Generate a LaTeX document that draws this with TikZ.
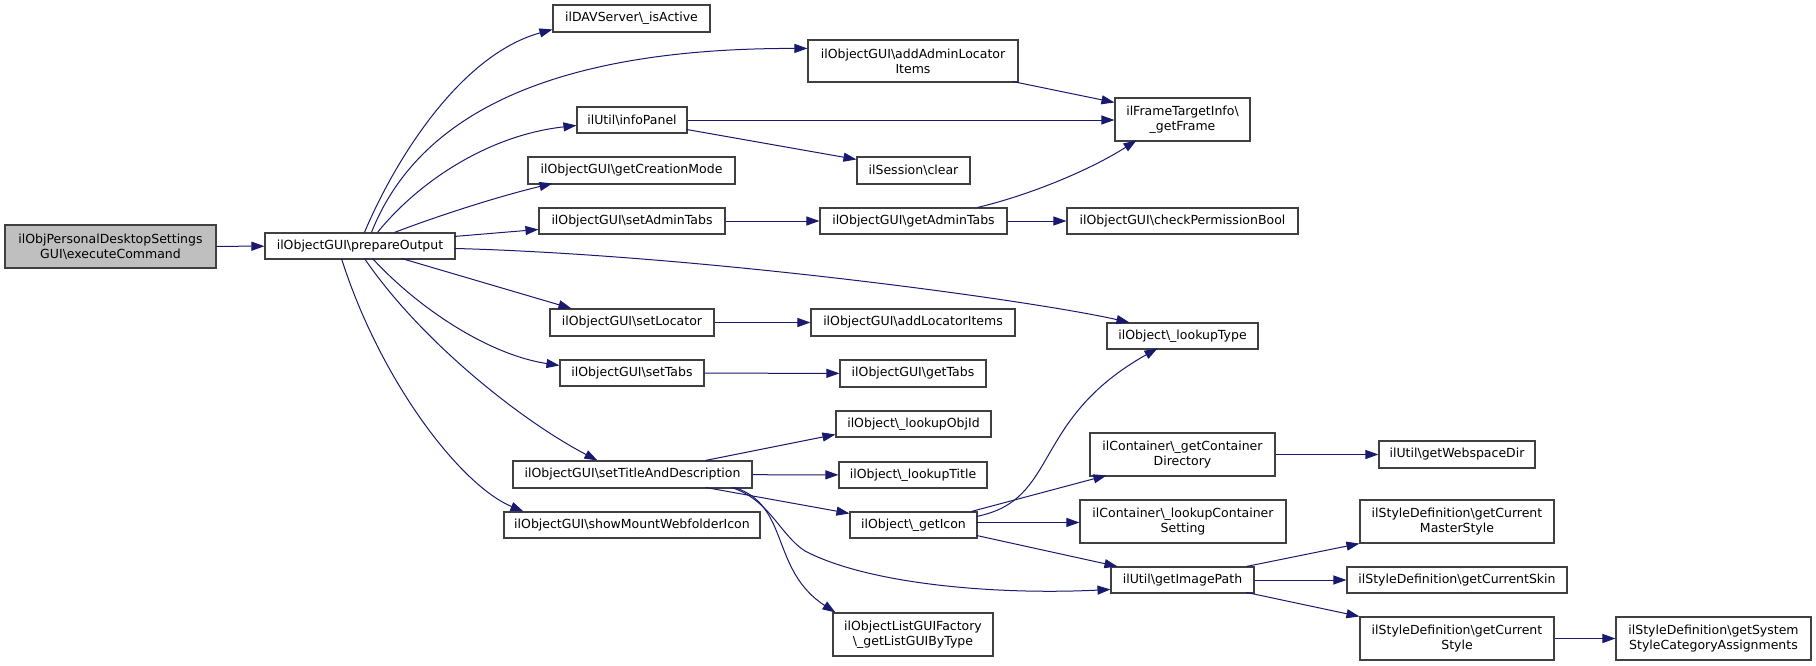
\documentclass[tikz,border=0pt]{standalone}
\usepackage{fontspec}
\setmainfont{DejaVu Sans}
\usetikzlibrary{arrows.meta,calc}
\definecolor{edgecol}{HTML}{191970}
\definecolor{boxline}{HTML}{404040}
\definecolor{rootfill}{HTML}{BFBFBF}
\begin{document}
\begin{tikzpicture}[x=1pt,y=-1pt,
  box/.style={draw=boxline, line width=1.1pt, fill=white, inner sep=0pt, align=center,
              font=\fontsize{12.5}{15}\selectfont},
  edge/.style={draw=edgecol, line width=1pt, -{Triangle[length=13pt,width=9pt]}}]
\useasboundingbox (0,0) rectangle (1816,665);
\fill[white] (0,0) rectangle (1816,665);
% rank 0,1
\node[box, fill=rootfill, minimum width=211pt, minimum height=43pt] (exec) at (110.5,246.5) {ilObjPersonalDesktopSettings\\GUI\textbackslash executeCommand};
\node[box, minimum width=190pt, minimum height=26pt] (prep) at (360,246) {ilObjectGUI\textbackslash prepareOutput};
% rank 2
\node[box, minimum width=157pt, minimum height=27pt] (dav) at (631.5,18.5) {ilDAVServer\textbackslash\_isActive};
\node[box, minimum width=210pt, minimum height=42pt] (addAdmin) at (913,61) {ilObjectGUI\textbackslash addAdminLocator\\Items};
\node[box, minimum width=110pt, minimum height=26pt] (info) at (632,120) {ilUtil\textbackslash infoPanel};
\node[box, minimum width=207pt, minimum height=27pt] (gcm) at (631.5,170.5) {ilObjectGUI\textbackslash getCreationMode};
\node[box, minimum width=186pt, minimum height=26pt] (sat) at (632,221) {ilObjectGUI\textbackslash setAdminTabs};
\node[box, minimum width=164pt, minimum height=27pt] (sloc) at (632,322.5) {ilObjectGUI\textbackslash setLocator};
\node[box, minimum width=144pt, minimum height=26pt] (stabs) at (632,373) {ilObjectGUI\textbackslash setTabs};
\node[box, minimum width=239pt, minimum height=27pt] (stitle) at (632.5,474.5) {ilObjectGUI\textbackslash setTitleAndDescription};
\node[box, minimum width=256pt, minimum height=26pt] (smount) at (632,525) {ilObjectGUI\textbackslash showMountWebfolderIcon};
% rank 3
\node[box, minimum width=113pt, minimum height=27pt] (sclear) at (913.5,170.5) {ilSession\textbackslash clear};
\node[box, minimum width=187pt, minimum height=26pt] (gat) at (913.5,221) {ilObjectGUI\textbackslash getAdminTabs};
\node[box, minimum width=204pt, minimum height=27pt] (aloc) at (913,322.5) {ilObjectGUI\textbackslash addLocatorItems};
\node[box, minimum width=146pt, minimum height=27pt] (gtabs) at (913,373.5) {ilObjectGUI\textbackslash getTabs};
\node[box, minimum width=155pt, minimum height=26pt] (lobj) at (913.5,424) {ilObject\textbackslash\_lookupObjId};
\node[box, minimum width=148pt, minimum height=26pt] (ltitle) at (913,475) {ilObject\textbackslash\_lookupTitle};
\node[box, minimum width=127pt, minimum height=26pt] (gicon) at (913.5,525) {ilObject\textbackslash\_getIcon};
\node[box, minimum width=160pt, minimum height=43pt] (lgui) at (913,634.5) {ilObjectListGUIFactory\\\textbackslash\_getListGUIByType};
% rank 4
\node[box, minimum width=135pt, minimum height=43pt] (frame) at (1182.5,119.5) {ilFrameTargetInfo\textbackslash\\\_getFrame};
\node[box, minimum width=231pt, minimum height=26pt] (cperm) at (1182.5,221) {ilObjectGUI\textbackslash checkPermissionBool};
\node[box, minimum width=151pt, minimum height=26pt] (ltype) at (1182.5,336) {ilObject\textbackslash\_lookupType};
\node[box, minimum width=185pt, minimum height=43pt] (gcd) at (1182.5,454.5) {ilContainer\textbackslash\_getContainer\\Directory};
\node[box, minimum width=206pt, minimum height=43pt] (lcs) at (1183,521.5) {ilContainer\textbackslash\_lookupContainer\\Setting};
\node[box, minimum width=143pt, minimum height=26pt] (gip) at (1182.5,580) {ilUtil\textbackslash getImagePath};
% rank 5,6
\node[box, minimum width=156pt, minimum height=27pt] (gwd) at (1457,454.5) {ilUtil\textbackslash getWebspaceDir};
\node[box, minimum width=194pt, minimum height=43pt] (gcms) at (1457,521.5) {ilStyleDefinition\textbackslash getCurrent\\MasterStyle};
\node[box, minimum width=220pt, minimum height=26pt] (gcsk) at (1457,580) {ilStyleDefinition\textbackslash getCurrentSkin};
\node[box, minimum width=194pt, minimum height=43pt] (gcst) at (1457,638.5) {ilStyleDefinition\textbackslash getCurrent\\Style};
\node[box, minimum width=195pt, minimum height=43pt] (gss) at (1713.5,638.5) {ilStyleDefinition\textbackslash getSystem\\StyleCategoryAssignments};
% edges
\draw[edge] (exec) -- (prep);
\draw[edge] ($(prep.north west)+(100,0)$) .. controls (395,160) and (460,55) .. ($(dav.north west)+(0,25)$);
\draw[edge] ($(prep.north west)+(107,0)$) .. controls (420,110) and (560,48) .. ($(addAdmin.north west)+(0,9)$);
\draw[edge] ($(prep.north west)+(113,0)$) .. controls (420,180) and (490,135) .. ($(info.north west)+(0,19)$);
\draw[edge] ($(prep.north west)+(130,0)$) .. controls (440,215) and (500,196) .. ($(gcm.north west)+(25,27)$);
\draw[edge] ($(prep.north west)+(190,4)$) -- ($(sat.north west)+(0,22)$);
\draw[edge] ($(prep.north west)+(190,16)$) .. controls (700,255) and (1030,300) .. ($(ltype.north west)+(23,0)$);
\draw[edge] ($(prep.north west)+(137,26)$) -- ($(sloc.north west)+(22,0)$);
\draw[edge] ($(prep.north west)+(108,26)$) .. controls (420,310) and (490,355) .. ($(stabs.north west)+(0,6)$);
\draw[edge] ($(prep.north west)+(100,26)$) .. controls (420,340) and (520,420) .. ($(stitle.north west)+(85,0)$);
\draw[edge] ($(prep.north west)+(77,26)$) .. controls (380,380) and (460,485) .. ($(smount.north west)+(20,0)$);
\draw[edge] ($(addAdmin.north west)+(205,42)$) -- ($(frame.north west)+(0,5)$);
\draw[edge] (info.east) -- (info.east -| frame.west);
\draw[edge] ($(info.north west)+(110,23)$) -- ($(sclear.north west)+(0,3)$);
\draw[edge] (sat) -- (gat);
\draw[edge] ($(gat.north west)+(158,0)$) .. controls (1030,195) and (1090,170) .. ($(frame.north west)+(22,43)$);
\draw[edge] (gat) -- (cperm);
\draw[edge] (sloc) -- (aloc);
\draw[edge] (stabs) -- (gtabs);
\draw[edge] ($(stitle.north west)+(193,0)$) -- ($(lobj.north west)+(0,24)$);
\draw[edge] (stitle) -- (ltitle);
\draw[edge] ($(stitle.north west)+(193,27)$) -- ($(gicon.north west)+(0,2)$);
\draw[edge] ($(stitle.north west)+(219,27)$) .. controls (770,500) and (780,535) .. (805,551) .. controls (870,585) and (1000,595) .. ($(gip.north west)+(0,23)$);
\draw[edge] ($(stitle.north west)+(222,27)$) .. controls (790,505) and (770,570) .. ($(lgui.north west)+(3,0)$);
\draw[edge] ($(gicon.north west)+(127,5)$) .. controls (1060,500) and (1030,420) .. ($(ltype.north west)+(51,26)$);
\draw[edge] ($(gicon.north west)+(122,0)$) -- ($(gcd.north west)+(17,43)$);
\draw[edge] ($(gicon.north west)+(127,11)$) -- ($(lcs.north west)+(0,23)$);
\draw[edge] ($(gicon.north west)+(127,24)$) -- ($(gip.north west)+(7,0)$);
\draw[edge] (gcd) -- (gwd);
\draw[edge] ($(gip.north west)+(136,0)$) -- (gcms.south west);
\draw[edge] (gip) -- (gcsk);
\draw[edge] ($(gip.north west)+(136,26)$) -- (gcst.north west);
\draw[edge] (gcst) -- (gss);
\end{tikzpicture}
\end{document}
